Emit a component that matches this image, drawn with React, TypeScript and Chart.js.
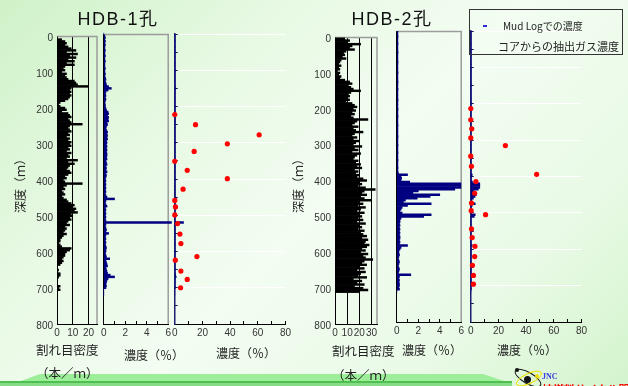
import React, { useEffect, useRef } from 'react';
import { Chart, registerables } from 'chart.js';

Chart.register(...registerables);

// ---------------- data ----------------
// depth bins (m), 5 m apart, 0 .. 720 m
const BIN_STEP_M = 5;
const DEPTH_BINS = Array.from({ length: 145 }, (_, i) => i * BIN_STEP_M);

// fracture density (fractures / m), HDB-1
const HDB1_FRACTURE = [
  0, 0, 3, 5, 6, 5, 7, 9, 12, 6,
  13, 8, 12, 7, 11, 6, 11, 5, 4, 5,
  3, 6, 5, 6, 7, 11, 12, 13, 20, 9,
  8, 9, 8, 9, 8, 7, 5, 2, 1, 2,
  5, 6, 3, 7, 8, 9, 7, 8, 9, 16,
  8, 7, 8, 9, 7, 8, 6, 8, 7, 9,
  8, 9, 7, 8, 6, 9, 7, 8, 6, 13,
  7, 11, 8, 7, 6, 8, 9, 7, 5, 6,
  4, 5, 16, 6, 4, 5, 3, 4, 5, 3,
  4, 6, 7, 9, 11, 10, 12, 11, 13, 9,
  10, 8, 9, 7, 6, 8, 5, 6, 5, 4,
  6, 4, 3, 2, 2, 1, 2, 3, 9, 8,
  6, 5, 5, 4, 3, 4, 3, 2, 0, 0,
  1, 0, 2, 2, 1, 0, 0, 0, 0, 2,
  1, 2, 0, 0, 0,
];

// fracture density (fractures / m), HDB-2
const HDB2_FRACTURE = [
  0, 8, 12, 10, 21, 14, 12, 16, 9, 7,
  8, 6, 9, 5, 4, 3, 5, 3, 4, 2,
  4, 3, 5, 4, 8, 12, 14, 11, 13, 15,
  21, 13, 11, 12, 10, 12, 9, 14, 16, 18,
  15, 17, 14, 16, 13, 15, 27, 18, 16, 14,
  19, 15, 17, 23, 16, 14, 18, 15, 20, 17,
  15, 22, 16, 19, 14, 21, 18, 16, 15, 19,
  17, 21, 18, 22, 16, 19, 17, 20, 18, 23,
  26, 20, 22, 19, 25, 33, 24, 22, 26, 21,
  24, 30, 20, 23, 19, 25, 21, 18, 24, 20,
  22, 19, 23, 18, 25, 20, 22, 19, 24, 21,
  23, 26, 22, 27, 25, 24, 28, 26, 22, 25,
  21, 27, 23, 25, 31, 24, 22, 26, 20, 24,
  18, 25, 21, 19, 26, 15, 22, 18, 24, 16,
  23, 27, 20, 0, 0,
];

// Mud Log gas concentration (%), HDB-1
const HDB1_MUDLOG = [
  0, 0.1, 0.15, 0.1, 0.15, 0.1, 0.15, 0.1, 0.1, 0.15,
  0.1, 0.1, 0.15, 0.1, 0.1, 0.15, 0.1, 0.1, 0.1, 0.15,
  0.1, 0.1, 0.15, 0.1, 0.15, 0.2, 0.15, 0.2, 0.25, 0.45,
  0.7, 0.4, 0.2, 0.15, 0.2, 0.15, 0.2, 0.15, 0.1, 0.15,
  0.15, 0.2, 0.25, 0.4, 0.45, 0.35, 0.45, 0.4, 0.45, 0.3,
  0.35, 0.25, 0.2, 0.25, 0.35, 0.3, 0.35, 0.3, 0.35, 0.25,
  0.3, 0.25, 0.3, 0.25, 0.3, 0.25, 0.3, 0.3, 0.25, 0.3,
  0.2, 0.25, 0.3, 0.2, 0.25, 0.2, 0.3, 0.2, 0.25, 0.2,
  0.15, 0.2, 0.15, 0.2, 0.15, 0.2, 0.15, 0.2, 0.15, 0.2,
  0.3, 1.0, 0.2, 0.15, 0.2, 0.3, 0.15, 0.2, 0.15, 0.2,
  0.15, 0.2, 0.15, 0.2, 6.3, 0.2, 0.15, 0.2, 0.25, 0.2,
  0.45, 0.2, 0.15, 0.2, 0.15, 0.2, 0.15, 0.2, 0.25, 0.2,
  0.2, 0.15, 0.2, 0.25, 0.55, 0.2, 0.25, 0.3, 0.35, 0.2,
  0.25, 0.3, 0.35, 0.6, 1.0, 0.4, 0.3, 0.25, 0.2, 0.25,
  0.2, 0, 0, 0, 0,
];

// Mud Log gas concentration (%), HDB-2
const HDB2_MUDLOG = [
  0.1, 0.1, 0.1, 0.12, 0.1, 0.1, 0.1, 0.12, 0.1, 0.1,
  0.1, 0.1, 0.12, 0.1, 0.1, 0.1, 0.1, 0.12, 0.1, 0.1,
  0.1, 0.1, 0.1, 0.12, 0.1, 0.1, 0.1, 0.1, 0.12, 0.1,
  0.1, 0.1, 0.12, 0.1, 0.1, 0.1, 0.1, 0.1, 0.12, 0.1,
  0.1, 0.1, 0.1, 0.12, 0.1, 0.1, 0.1, 0.12, 0.1, 0.1,
  0.1, 0.1, 0.12, 0.1, 0.1, 0.1, 0.1, 0.1, 0.12, 0.1,
  0.1, 0.1, 0.1, 0.12, 0.1, 0.1, 0.1, 0.12, 0.1, 0.1,
  0.1, 0.12, 0.1, 0.1, 0.1, 0.12, 0.1, 0.1, 0.15, 1.0,
  0.4, 0.45, 0.4, 1.2, 6.5, 6.5, 6.5, 5.4, 2.0, 1.5,
  4.0, 3.1, 1.9, 0.8, 0.6, 3.2, 1.0, 0.5, 0.4, 0.3,
  0.5, 3.2, 2.5, 0.4, 0.3, 0.3, 0.25, 0.3, 0.25, 0.3,
  0.25, 0.3, 0.25, 0.3, 0.3, 0.25, 0.3, 0.25, 1.0, 0.4,
  0.3, 0.2, 0.2, 0.25, 0.2, 0.15, 0.2, 0.25, 0.2, 0.15,
  0.2, 0.25, 0.2, 0.15, 1.3, 0.25, 0.2, 0.25, 0.2, 0.25,
  0.25, 0.2, 0.25, 0, 0,
];

// gas extracted from core (%)
const HDB1_CORE_DEPTH = [222, 250, 278, 303, 324, 351, 376, 399, 428, 459, 477, 499, 523, 552, 578, 614, 624, 654, 677, 700];
const HDB1_CORE_GAS = [0, 15, 61, 38, 14, 0, 9, 38, 6, 0, 0.5, 0, 2, 3.7, 4.4, 16, 0.4, 4.4, 9, 4.2];
const HDB2_CORE_DEPTH = [213, 244, 269, 294, 315, 344, 372, 394, 414, 446, 473, 494, 505, 544, 568, 592, 620, 644, 672, 696];
const HDB2_CORE_GAS = [0, 0, 0.7, 0, 25, 0, 0.5, 47.6, 3.7, 2.8, 0.5, 0.3, 10.7, 0.5, 1, 3, 2.8, 1.2, 1.9, 1.9];

const DEPTH_MAX = 800;
const DEPTH_TICK_STEP = 100;

// ---------------- styling ----------------
const FONT = "'Liberation Sans', Arial, 'Noto Sans CJK JP', sans-serif";
const CJK = "'Noto Sans CJK JP', 'Liberation Sans', sans-serif";
const NAVY = '#000080';
const PAD_T = 8;
const PAD_B = 24;

type Panel = {
  id: string;
  left: number; top: number; width: number; height: number;
  padL: number; padR: number;
  kind: 'fracture' | 'mud' | 'core';
  xMax: number; xStep: number; labelEvery: number;
  values: number[];
  coreDepth?: number[]; coreGas?: number[];
  noClip?: boolean;
};

const PANELS: Panel[] = [
  { id: 'a1', left: 57, top: 34, width: 40, height: 290, padL: 50, padR: 8, kind: 'fracture', xMax: 25.4, xStep: 10, labelEvery: 10, values: HDB1_FRACTURE },
  { id: 'b1', left: 101, top: 34, width: 68, height: 290, padL: 6, padR: 8, kind: 'mud', xMax: 6, xStep: 1, labelEvery: 2, values: HDB1_MUDLOG, noClip: true },
  { id: 'c1', left: 172, top: 34, width: 115, height: 290, padL: 6, padR: 10, kind: 'core', xMax: 80, xStep: 10, labelEvery: 20, values: HDB1_MUDLOG, coreDepth: HDB1_CORE_DEPTH, coreGas: HDB1_CORE_GAS },
  { id: 'a2', left: 335, top: 35, width: 42, height: 289, padL: 50, padR: 8, kind: 'fracture', xMax: 34.5, xStep: 10, labelEvery: 10, values: HDB2_FRACTURE },
  { id: 'b2', left: 394, top: 31, width: 68, height: 291, padL: 6, padR: 8, kind: 'mud', xMax: 6, xStep: 1, labelEvery: 2, values: HDB2_MUDLOG },
  { id: 'c2', left: 468, top: 31, width: 115, height: 291, padL: 6, padR: 10, kind: 'core', xMax: 80, xStep: 10, labelEvery: 20, values: HDB2_MUDLOG, coreDepth: HDB2_CORE_DEPTH, coreGas: HDB2_CORE_GAS },
];

const framePlugin = {
  id: 'panelFrame',
  beforeDatasetsDraw(chart: any, _args: any, opts: any) {
    if (!opts || !opts.show) return;
    const { ctx, chartArea: a } = chart;
    ctx.save();
    ctx.strokeStyle = '#9c9c9c';
    ctx.lineWidth = 1.5;
    ctx.beginPath();
    ctx.moveTo(a.left, a.top + 0.5);
    ctx.lineTo(a.right, a.top + 0.5);
    ctx.lineTo(a.right, a.bottom);
    ctx.stroke();
    ctx.restore();
  },
};

function buildConfig(p: Panel): any {
  const barColor = p.kind === 'fracture' ? '#000000' : NAVY;
  const datasets: any[] = [];
  if (p.coreDepth && p.coreGas) {
    const gas = p.coreGas;
    datasets.push({
      type: 'scatter',
      label: 'コアからの抽出ガス濃度',
      data: p.coreDepth.map((d, i) => ({ x: gas[i], y: d })),
      backgroundColor: '#ff0000',
      borderWidth: 0,
      pointRadius: 2.6,
      clip: false,
    });
  }
  const bar: any = {
    type: 'bar',
    label: p.kind === 'fracture' ? '割れ目密度' : 'Mud Logでの濃度',
    data: DEPTH_BINS.map((d, i) => ({ x: p.values[i], y: d })),
    backgroundColor: barColor,
    borderWidth: 0,
    barPercentage: 1,
    categoryPercentage: 1,
  };
  if (p.noClip) bar.clip = false;
  datasets.push(bar);

  const isFrac = p.kind === 'fracture';
  const isCore = p.kind === 'core';

  return {
    type: 'bar',
    data: { datasets },
    plugins: [framePlugin],
    options: {
      indexAxis: 'y',
      animation: false,
      responsive: false,
      maintainAspectRatio: false,
      devicePixelRatio: 1,
      events: [],
      layout: { padding: { left: 0, right: p.padR, top: PAD_T, bottom: 0 } },
      plugins: {
        legend: { display: false },
        tooltip: { enabled: false },
        panelFrame: { show: !isCore },
      },
      scales: {
        x: {
          type: 'linear',
          position: 'bottom',
          offset: false,
          min: 0,
          max: p.xMax,
          afterFit: (s: any) => { s.height = PAD_B; },
          ticks: {
            stepSize: p.xStep,
            includeBounds: false,
            autoSkip: false,
            maxRotation: 0,
            minRotation: 0,
            padding: 6,
            color: '#333',
            font: { size: 10, family: FONT },
            callback: (v: any) => (Number(v) % p.labelEvery === 0 ? String(v) : ''),
          },
          grid: {
            offset: false,
            drawOnChartArea: isFrac,
            color: (c: any) => (isFrac && c.tick && c.tick.value > 0 ? '#000' : 'rgba(0,0,0,0)'),
            lineWidth: 1,
            drawTicks: true,
            tickLength: -3,
            tickColor: '#000',
            tickWidth: 1,
          },
          border: { display: true, color: '#000', width: 1 },
        },
        y: {
          type: 'linear',
          position: 'left',
          offset: false,
          reverse: true,
          min: 0,
          max: DEPTH_MAX,
          afterFit: (s: any) => { s.width = p.padL; },
          ticks: {
            display: isFrac,
            stepSize: isCore ? DEPTH_TICK_STEP / 2 : DEPTH_TICK_STEP,
            maxTicksLimit: 100,
            autoSkip: false,
            padding: 4,
            labelOffset: 2,
            color: '#333',
            font: { size: 10, family: FONT },
          },
          grid: {
            offset: false,
            drawOnChartArea: isCore,
            color: (c: any) => (isCore && c.tick && c.tick.value % DEPTH_TICK_STEP === 0 && c.tick.value < DEPTH_MAX ? '#ffffff' : 'rgba(0,0,0,0)'),
            lineWidth: 1,
            drawTicks: isCore,
            tickLength: -3,
            tickColor: '#1c1c60',
          },
          border: { display: true, color: isCore ? '#1c1c70' : '#000', width: isCore ? 1.5 : 1 },
        },
      },
    },
  };
}

const Txt = ({ x, y, size, children, color = '#222', weight = 400, family = CJK, spacing = 0, center = false }: any) => (
  <div
    style={{
      position: 'absolute',
      left: x,
      top: y,
      transform: center ? 'translate(-50%, -50%)' : 'translateY(-50%)',
      fontSize: size,
      lineHeight: 1,
      color,
      fontWeight: weight,
      fontFamily: family,
      letterSpacing: spacing,
      whiteSpace: 'nowrap',
    }}
  >
    {children}
  </div>
);

const VTxt = ({ x, y, size, children }: any) => (
  <div
    style={{
      position: 'absolute',
      left: x,
      top: y,
      transform: 'translate(-50%, -50%) rotate(-90deg)',
      fontSize: size,
      lineHeight: 1,
      color: '#222',
      fontFamily: CJK,
      whiteSpace: 'nowrap',
    }}
  >
    {children}
  </div>
);

export default function App() {
  const refs = useRef<(HTMLCanvasElement | null)[]>([]);

  useEffect(() => {
    Chart.defaults.font.family = FONT;
    const charts = PANELS.map((p, i) => new Chart(refs.current[i] as HTMLCanvasElement, buildConfig(p)));
    return () => charts.forEach((c) => c.destroy());
  }, []);

  return (
    <div
      style={{
        position: 'fixed',
        left: 0,
        top: 0,
        width: 628,
        height: 386,
        overflow: 'hidden',
        background: 'linear-gradient(135deg, #cff2c8 0%, #e7f9e3 28%, #f3fdf2 52%, #e9fae6 78%, #d3f4cc 100%)',
        fontFamily: CJK,
      }}
    >
      {/* bottom decorative band */}
      <div style={{ position: 'absolute', left: 0, top: 374, width: 540, height: 8, background: '#9cee98', clipPath: 'polygon(18px 8px, 40px 0px, 483px 0px, 507px 8px)' }} />
      <div style={{ position: 'absolute', left: 0, top: 381, width: 512, height: 2, background: '#4fbf4f' }} />
      <div style={{ position: 'absolute', left: 0, top: 383, width: 512, height: 3, background: '#86dc86' }} />

      {PANELS.map((p, i) => {
        const w = p.padL + p.width + p.padR;
        const h = PAD_T + p.height + PAD_B;
        return (
          <canvas
            key={p.id}
            ref={(el) => { refs.current[i] = el; }}
            width={w}
            height={h}
            style={{ position: 'absolute', left: p.left - p.padL, top: p.top - PAD_T, width: w, height: h }}
          />
        );
      })}

      {/* titles */}
      <Txt x={118} y={19} size={18} center family={"'Liberation Sans', 'Noto Sans CJK JP', sans-serif"} spacing={1.5} color="#111">HDB-1孔</Txt>
      <Txt x={392} y={19} size={18} center family={"'Liberation Sans', 'Noto Sans CJK JP', sans-serif"} spacing={1.5} color="#111">HDB-2孔</Txt>

      {/* depth axis titles */}
      <VTxt x={20} y={183} size={12}>深度（ｍ）</VTxt>
      <VTxt x={298} y={183} size={12}>深度（ｍ）</VTxt>

      {/* x axis titles */}
      <Txt x={36} y={350} size={12.5}>割れ目密度</Txt>
      <Txt x={36} y={373} size={12.5}>（本／ｍ）</Txt>
      <Txt x={124} y={355} size={12}>濃度（％）</Txt>
      <Txt x={216} y={353} size={12}>濃度（％）</Txt>

      <Txt x={332} y={351} size={12.5}>割れ目密度</Txt>
      <Txt x={332} y={375} size={12.5}>（本／ｍ）</Txt>
      <Txt x={402} y={350} size={12}>濃度（％）</Txt>
      <Txt x={497} y={350} size={12}>濃度（％）</Txt>

      {/* legend */}
      <div style={{ position: 'absolute', left: 469, top: 9, width: 154, height: 46, border: '1px solid #333', boxSizing: 'border-box' }} />
      <div style={{ position: 'absolute', left: 483, top: 25, width: 4, height: 1.5, background: '#2a2ad0' }} />
      <Txt x={503} y={26} size={10}>Mud Logでの濃度</Txt>
      <Txt x={498} y={46} size={11}>コアからの抽出ガス濃度</Txt>

      {/* logo */}
      <div style={{ position: 'absolute', left: 513, top: 372, width: 28, height: 10, border: '1.5px solid #111', borderRadius: '50%', transform: 'rotate(30deg)' }} />
      <div style={{ position: 'absolute', left: 515, top: 373, width: 26, height: 9, border: '1.5px solid #f0e000', borderRadius: '50%', transform: 'rotate(-25deg)' }} />
      <div style={{ position: 'absolute', left: 524, top: 376, width: 7, height: 7, background: '#111', borderRadius: '50%' }} />
      <div style={{ position: 'absolute', left: 515, top: 368, width: 4, height: 4, background: '#111', borderRadius: '50%' }} />
      <div style={{ position: 'absolute', left: 535, top: 374, width: 4, height: 4, background: '#f0e000', borderRadius: '50%' }} />
      <Txt x={542} y={377} size={8} weight={700} color="#3a3adf" family={"'Liberation Serif', serif"}>JNC</Txt>
      <Txt x={542} y={389} size={11} weight={700} color="#ff0000">核燃料サイクル開発機構</Txt>
    </div>
  );
}
